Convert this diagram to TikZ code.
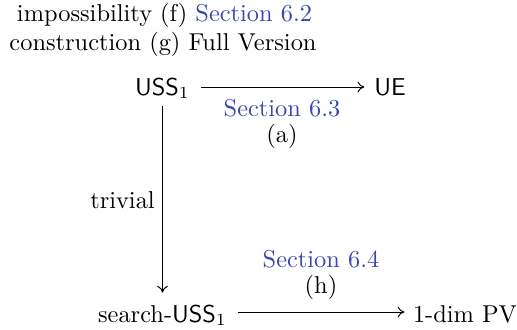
\documentclass[tikz,border=0pt]{standalone}
\usetikzlibrary{arrows.meta}
\definecolor{linkblue}{rgb}{0.22,0.28,0.68}
\begin{document}
\begin{tikzpicture}[x=0.41pt,y=-0.41pt,
  lbl/.style={inner sep=0pt,anchor=base},
  obj/.style={inner sep=0pt,anchor=base},
  cdarrow/.style={-{Computer Modern Rightarrow[length=2.8pt,width=4.4pt]},line width=0.4pt}]
\useasboundingbox (0,0) rectangle (517,329);
% header lines
\node[lbl] (imp) at (164.5,21) {impossibility (f) \textcolor{linkblue}{Section 6.2}};
\node[lbl] (con) at (163,50) {construction (g) Full Version};
% objects
\node[obj] (uss) at (162.5,95) {$\mathsf{USS}_1$};
\node[obj] (ue) at (390,95) {$\mathsf{UE}$};
\node[obj] (suss) at (162.5,322) {search-$\mathsf{USS}_1$};
\node[obj] (pv) at (465,322) {1-dim PV};
% arrow labels
\node[lbl] (s63) at (282,116) {\textcolor{linkblue}{Section 6.3}};
\node[lbl] (la) at (282,142) {(a)};
\node[lbl] (triv) at (122.5,208) {trivial};
\node[lbl] (s64) at (321,267) {\textcolor{linkblue}{Section 6.4}};
\node[lbl] (lh) at (321,293) {(h)};
% arrows
\draw[cdarrow,shorten <=4.3pt,shorten >=3.9pt] (uss.east |- 0,87) -- (ue.west |- 0,87);
\draw[cdarrow,shorten <=3pt,shorten >=4.9pt] (uss.south) -- (suss.north);
\draw[cdarrow,shorten <=4.2pt,shorten >=3.3pt] (suss.east |- 0,312) -- (pv.west |- 0,312);
\end{tikzpicture}
\end{document}
